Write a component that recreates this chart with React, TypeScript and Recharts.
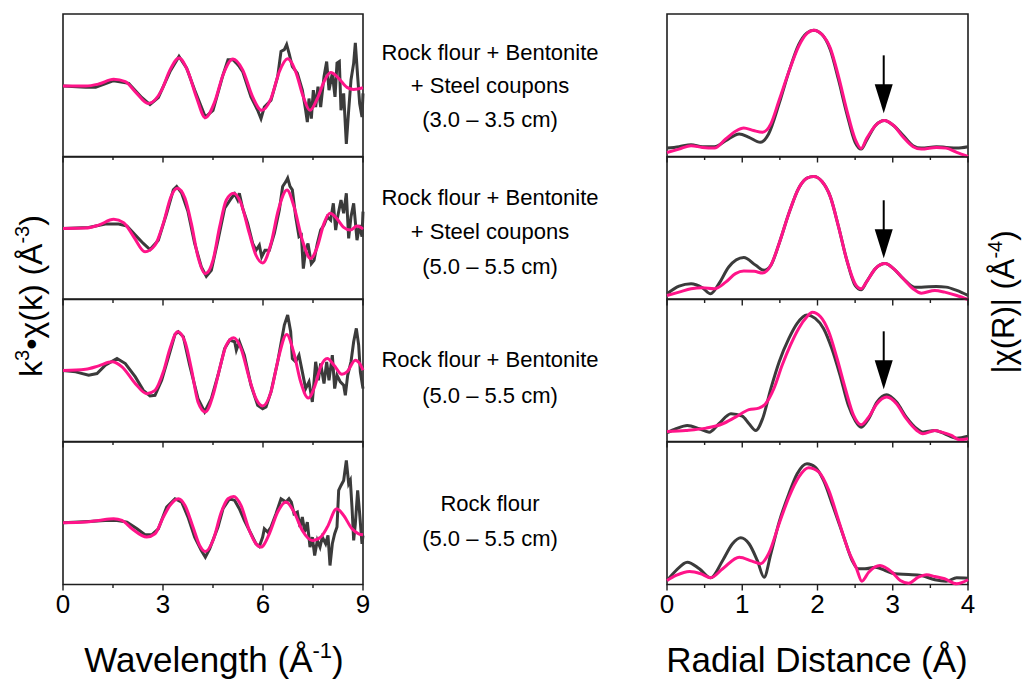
import React from "react";
import { LineChart, Line, XAxis, YAxis, ReferenceArea, ReferenceDot } from "recharts";

const FONT = "'Liberation Sans', Arial, Helvetica, sans-serif";
const EXP_COLOR = "#3b3b3b";
const FIT_COLOR = "#ff1489";
const FRAME = "#1e1e1e";

// ---- k-space, panel 1 (3.0-3.5 cm, + steel)
const kExp1 = [0, 0.68, 0.98, 1.52, 1.97, 2.36, 2.61, 2.86, 3.21, 3.48, 3.71, 3.95, 4.27, 4.5, 4.8, 4.95, 5.1, 5.2, 5.29, 5.39, 5.64, 5.84, 5.94, 6.04, 6.24, 6.44, 6.54, 6.64, 6.71, 6.78, 6.88, 7.03, 7.18, 7.28, 7.33, 7.38, 7.45, 7.51, 7.58, 7.65, 7.73, 7.83, 7.91, 7.98, 8.08, 8.16, 8.22, 8.29, 8.34, 8.42, 8.5, 8.57, 8.64, 8.72, 8.77, 8.84, 8.9, 8.97, 9.0];
const chiExp1 = [0, -0.13, -0.13, 0.53, 0.27, -1.13, -1.83, -1.13, 1.43, 2.93, 1.77, -0.4, -3.07, -2.4, 1.1, 2.6, 2.6, 2.27, 1.93, 1.43, -1.07, -2.4, -3.23, -2.07, -1.4, 0.93, 3.43, 3.6, 4.1, 3.27, 1.93, 1.27, -0.4, -2.4, -3.57, -1.23, -3.23, -0.4, -2.07, -0.07, -2.07, 0.93, 2.43, -0.4, 1.27, -1.07, 2.27, 2.43, -2.4, -0.73, -5.73, -2.4, 0.6, 2.27, 4.27, 0.93, -1.73, -3.07, -0.73];
const kFit1 = [0, 0.68, 1.07, 1.52, 1.87, 2.17, 2.56, 2.96, 3.21, 3.48, 3.75, 4.0, 4.27, 4.55, 4.8, 5.1, 5.39, 5.69, 5.96, 6.24, 6.49, 6.74, 6.98, 7.21, 7.41, 7.63, 7.83, 8.03, 8.27, 8.52, 8.72, 9.0];
const chiFit1 = [0, 0, 0.2, 0.67, 0.43, -0.57, -1.73, -0.4, 1.6, 2.77, 1.43, -1.07, -3.13, -1.57, 1.1, 2.67, 1.6, -1.07, -2.4, -1.23, 1.43, 2.7, 1.43, -1.07, -2.4, -1.23, 0.43, 1.33, 0.77, -0.13, -0.33, -0.17];

// ---- k-space, panel 2 (5.0-5.5 cm, + steel)
const kExp2 = [0, 0.77, 1.27, 1.67, 1.92, 2.17, 2.41, 2.61, 2.86, 3.11, 3.31, 3.41, 3.56, 3.75, 3.95, 4.15, 4.3, 4.45, 4.65, 4.85, 5.05, 5.15, 5.24, 5.29, 5.39, 5.54, 5.69, 5.79, 5.89, 5.96, 6.06, 6.19, 6.34, 6.49, 6.59, 6.69, 6.74, 6.81, 6.88, 6.98, 7.08, 7.15, 7.21, 7.28, 7.35, 7.45, 7.53, 7.63, 7.73, 7.83, 7.93, 8.03, 8.11, 8.18, 8.24, 8.34, 8.42, 8.5, 8.57, 8.64, 8.72, 8.82, 8.9, 8.97, 9.0];
const chiExp2 = [0, 0.1, 0.43, 0.43, 0.23, -0.67, -1.5, -2.1, -1.17, 1.5, 3.83, 4.17, 3.5, 1.67, -1.5, -3.83, -4.77, -4.17, -1.17, 2.0, 3.0, 3.43, 2.83, 3.5, 2.0, 0.5, -1.5, -2.17, -1.67, -2.83, -2.17, -2.17, -0.5, 1.83, 4.17, 4.67, 5.0, 4.17, 3.83, 1.17, -0.83, -0.67, -4.0, -2.17, -1.5, -3.5, -3.17, -1.5, -0.17, 0.33, 1.17, 0.83, 2.5, -0.17, 1.17, 2.83, 1.5, 3.5, -1.0, 1.17, 2.5, -1.17, 0.33, -0.83, 1.67];
const kFit2 = [0, 0.68, 1.07, 1.52, 1.82, 2.12, 2.46, 2.76, 3.01, 3.24, 3.43, 3.66, 3.85, 4.05, 4.27, 4.5, 4.7, 4.9, 5.12, 5.34, 5.59, 5.79, 5.99, 6.24, 6.46, 6.72, 6.93, 7.18, 7.43, 7.63, 7.83, 8.01, 8.21, 8.42, 8.62, 8.82, 9.0];
const chiFit2 = [0, 0.03, 0.33, 0.9, 0.57, -0.83, -2.33, -1.67, 0.5, 3.17, 4.0, 3.0, 0.5, -2.83, -4.5, -3.17, 0.17, 2.83, 3.5, 2.5, -0.5, -2.67, -3.43, -1.5, 1.83, 3.83, 2.17, -1.17, -3.0, -1.83, 0.5, 1.5, 1.0, 0.1, -0.17, 0.23, -0.07];

// ---- k-space, panel 3 (rock flour + bentonite)
const kExp3 = [0, 0.38, 0.77, 1.02, 1.27, 1.62, 1.87, 2.17, 2.41, 2.61, 2.76, 2.96, 3.21, 3.36, 3.46, 3.61, 3.8, 4.05, 4.25, 4.45, 4.65, 4.85, 5.0, 5.15, 5.2, 5.29, 5.44, 5.64, 5.84, 5.99, 6.09, 6.24, 6.44, 6.64, 6.74, 6.83, 6.88, 6.98, 7.08, 7.18, 7.28, 7.38, 7.48, 7.58, 7.66, 7.73, 7.83, 7.91, 7.98, 8.08, 8.15, 8.22, 8.32, 8.42, 8.47, 8.54, 8.64, 8.72, 8.8, 8.87, 8.92, 9.0];
const chiExp3 = [0, -0.13, -0.47, -0.3, 0.53, 1.2, 0.7, -0.63, -1.97, -2.53, -2.47, -0.97, 1.87, 3.6, 3.87, 3.37, 0.53, -2.8, -4.13, -2.8, -0.47, 2.2, 3.03, 2.87, 2.03, 2.87, 1.53, -1.47, -3.47, -3.8, -3.63, -2.13, 0.87, 4.53, 5.53, 3.87, 1.2, 0.87, 1.53, -0.13, -1.8, -1.13, -3.13, 0.87, -0.97, 0.7, -1.3, 0.87, -0.97, 1.53, -1.8, -0.47, -1.13, -1.47, -2.47, -0.47, 0.87, 2.87, 4.2, 2.53, -0.13, -1.8];
const kFit3 = [0, 0.68, 1.07, 1.47, 1.77, 2.17, 2.51, 2.76, 3.01, 3.21, 3.44, 3.66, 3.85, 4.05, 4.27, 4.5, 4.7, 4.9, 5.12, 5.34, 5.59, 5.79, 5.99, 6.24, 6.46, 6.71, 6.93, 7.13, 7.36, 7.58, 7.73, 7.93, 8.13, 8.37, 8.52, 8.77, 8.9, 9.0];
const chiFit3 = [0, 0.13, 0.47, 0.87, 0.37, -1.3, -2.3, -1.97, -0.13, 2.2, 3.87, 2.87, 0.2, -3.13, -4.13, -2.47, 0.2, 2.53, 3.27, 2.2, -0.8, -2.8, -3.53, -2.13, 1.2, 3.6, 1.7, -1.13, -2.73, -1.3, 0.37, 1.2, 0.53, -0.37, -0.13, 1.03, 0.7, 0.03];

// ---- k-space, panel 4 (rock flour)
const kExp4 = [0, 0.77, 1.27, 1.62, 1.92, 2.22, 2.46, 2.66, 2.86, 3.11, 3.36, 3.56, 3.75, 3.95, 4.15, 4.27, 4.4, 4.65, 4.8, 5.0, 5.15, 5.29, 5.44, 5.64, 5.79, 5.89, 5.99, 6.04, 6.14, 6.24, 6.39, 6.54, 6.69, 6.78, 6.85, 6.93, 7.03, 7.11, 7.18, 7.25, 7.33, 7.41, 7.48, 7.55, 7.63, 7.71, 7.78, 7.88, 7.95, 8.01, 8.08, 8.15, 8.22, 8.27, 8.34, 8.42, 8.5, 8.57, 8.62, 8.67, 8.72, 8.77, 8.84, 8.9, 8.97, 9.0];
const chiExp4 = [0, 0.13, 0.23, 0.23, 0.07, -0.6, -1.2, -1.2, -0.6, 1.57, 2.4, 2.07, 0.57, -1.43, -2.77, -3.43, -2.6, -0.43, 1.4, 2.4, 2.23, 1.4, 0.23, -1.1, -2.1, -2.37, -1.43, -0.6, -0.93, -0.43, 0.9, 2.4, 2.07, 2.4, 2.07, 0.9, 1.07, -0.43, 0.57, -0.93, 0.07, -2.43, -1.43, -3.27, -1.77, -2.43, -1.43, -2.1, -1.27, -4.27, -2.1, -1.1, -0.43, 3.23, 3.73, 4.23, 6.23, 3.9, 4.23, 1.57, -1.77, -0.1, 3.23, 0.9, -2.1, -1.27];
const kFit4 = [0, 0.68, 1.07, 1.52, 1.77, 2.07, 2.51, 2.76, 3.01, 3.21, 3.46, 3.66, 3.9, 4.1, 4.27, 4.5, 4.75, 4.95, 5.12, 5.34, 5.59, 5.79, 5.94, 6.19, 6.44, 6.69, 6.93, 7.18, 7.48, 7.73, 7.93, 8.21, 8.42, 8.67, 8.87, 9.0];
const chiFit4 = [0, 0.07, 0.23, 0.4, 0.23, -0.6, -1.43, -1.1, 0.57, 1.73, 2.4, 1.73, -0.43, -2.27, -2.87, -1.77, 1.07, 2.4, 2.63, 1.73, -0.77, -2.1, -2.43, -1.1, 1.07, 2.07, 1.07, -0.77, -1.77, -1.43, -0.43, 1.4, 0.73, -0.6, -1.1, -1.2];

// ---- R-space magnitudes
const rExp1 = [0, 0.16, 0.32, 0.47, 0.63, 0.78, 0.96, 1.09, 1.24, 1.35, 1.49, 1.62, 1.75, 1.86, 1.95, 2.06, 2.17, 2.28, 2.39, 2.5, 2.58, 2.65, 2.77, 2.89, 3.01, 3.14, 3.27, 3.38, 3.58, 3.71, 3.85, 4.0];
const ftExp1 = [0.83, 0.97, 1.17, 0.97, 0.97, 1.57, 2.23, 1.9, 1.4, 2.23, 5.23, 8.4, 11.07, 12.23, 12.5, 12.07, 10.57, 7.57, 4.23, 1.4, 0.73, 1.57, 3.07, 3.57, 3.07, 2.07, 1.07, 0.83, 0.97, 0.9, 0.83, 0.97];
const rFit1 = [0, 0.16, 0.32, 0.47, 0.63, 0.78, 0.91, 1.02, 1.15, 1.27, 1.38, 1.49, 1.62, 1.75, 1.86, 1.95, 2.06, 2.17, 2.28, 2.39, 2.5, 2.58, 2.65, 2.77, 2.89, 3.01, 3.14, 3.27, 3.38, 3.58, 3.71, 3.85, 4.0];
const ftFit1 = [0.4, 0.73, 1.07, 0.9, 0.83, 1.73, 2.5, 2.83, 2.57, 2.4, 3.23, 5.57, 8.4, 10.9, 12.17, 12.5, 12.07, 10.73, 7.9, 4.57, 1.73, 0.8, 1.73, 3.07, 3.57, 3.07, 1.9, 0.97, 0.73, 0.9, 0.83, 0.4, 0];

const rExp2 = [0, 0.16, 0.32, 0.47, 0.58, 0.69, 0.82, 1.02, 1.18, 1.29, 1.38, 1.49, 1.62, 1.75, 1.86, 1.95, 2.06, 2.17, 2.28, 2.39, 2.5, 2.58, 2.65, 2.77, 2.9, 3.01, 3.14, 3.29, 3.38, 3.58, 3.71, 3.85, 4.0];
const ftExp2 = [0.57, 1.33, 1.57, 1.17, 0.57, 1.57, 3.23, 4.17, 3.4, 2.9, 3.4, 5.57, 8.57, 11.07, 12.07, 12.23, 11.73, 10.23, 7.23, 3.9, 1.4, 0.97, 1.73, 3.07, 3.57, 3.07, 2.07, 1.23, 1.23, 1.3, 1.23, 0.9, 0.4];
const rFit2 = [0, 0.16, 0.32, 0.47, 0.63, 0.78, 0.91, 1.02, 1.16, 1.27, 1.38, 1.49, 1.62, 1.75, 1.86, 1.95, 2.06, 2.17, 2.28, 2.39, 2.5, 2.58, 2.65, 2.77, 2.9, 3.01, 3.14, 3.27, 3.38, 3.56, 3.69, 3.85, 4.0];
const ftFit2 = [0.4, 0.73, 1.07, 1.17, 1.07, 1.73, 2.57, 2.83, 2.8, 2.63, 3.4, 5.57, 8.57, 11.07, 12.07, 12.23, 11.73, 10.23, 7.23, 3.9, 1.57, 1.07, 1.73, 3.07, 3.57, 3.07, 2.07, 1.07, 0.63, 0.9, 0.73, 0.4, 0];

const rExp3 = [0, 0.12, 0.27, 0.43, 0.56, 0.69, 0.85, 1.0, 1.09, 1.18, 1.27, 1.38, 1.49, 1.62, 1.73, 1.86, 1.97, 2.08, 2.19, 2.3, 2.41, 2.5, 2.58, 2.68, 2.79, 2.92, 3.05, 3.18, 3.32, 3.4, 3.56, 3.69, 3.85, 4.0];
const ftExp3 = [0.87, 1.27, 1.6, 1.27, 0.93, 1.77, 2.77, 2.53, 1.77, 1.1, 2.27, 5.27, 7.93, 10.27, 11.77, 12.6, 12.27, 11.27, 9.27, 6.6, 3.6, 2.1, 1.43, 2.27, 3.93, 4.67, 3.93, 2.43, 1.27, 0.93, 1.1, 0.77, 0.33, 0.53];
const rFit3 = [0, 0.25, 0.52, 0.74, 0.91, 1.09, 1.22, 1.31, 1.42, 1.53, 1.64, 1.75, 1.86, 1.93, 2.04, 2.15, 2.26, 2.37, 2.48, 2.58, 2.68, 2.79, 2.92, 3.05, 3.18, 3.32, 3.4, 3.56, 3.65, 3.78, 3.89, 4.0];
const ftFit3 = [1.0, 1.1, 1.33, 1.77, 2.43, 3.17, 3.33, 3.77, 5.27, 7.6, 9.6, 11.27, 12.43, 12.87, 12.43, 10.93, 8.27, 5.27, 2.6, 1.67, 2.43, 3.77, 4.43, 3.77, 2.27, 1.1, 0.77, 1.1, 0.93, 0.6, 0.17, 0.27];

const rExp4 = [0, 0.12, 0.27, 0.43, 0.58, 0.74, 0.87, 0.98, 1.09, 1.2, 1.29, 1.38, 1.49, 1.62, 1.73, 1.86, 1.97, 2.08, 2.21, 2.35, 2.46, 2.54, 2.63, 2.77, 2.9, 3.03, 3.21, 3.38, 3.56, 3.71, 3.85, 4.0];
const ftExp4 = [0.4, 1.4, 2.23, 1.57, 0.67, 2.4, 4.07, 4.67, 4.07, 2.4, 0.73, 3.07, 6.23, 9.07, 11.07, 12.07, 11.73, 10.4, 7.73, 4.73, 2.4, 1.57, 1.57, 1.73, 1.4, 1.07, 1.0, 0.9, 0.47, 0.33, 0.67, 0.63];
const rFit4 = [0, 0.12, 0.3, 0.45, 0.58, 0.74, 0.96, 1.13, 1.24, 1.35, 1.49, 1.62, 1.75, 1.88, 2.02, 2.15, 2.28, 2.41, 2.52, 2.59, 2.68, 2.83, 2.99, 3.1, 3.21, 3.34, 3.45, 3.56, 3.69, 3.85, 4.0];
const ftFit4 = [0.4, 0.9, 1.3, 1.07, 0.67, 1.57, 2.73, 2.33, 2.07, 3.07, 6.07, 8.73, 10.73, 11.67, 11.23, 9.4, 6.4, 3.4, 1.57, 0.33, 1.23, 1.9, 1.23, 0.4, 0.13, 0.73, 0.97, 0.8, 0.57, 0.07, 0.47];

// y ranges of each stacked panel
const kRanges = [[-6.97, 7.13], [-7.07, 7.1], [-7.07, 7.13], [-6.17, 8.07]];
const rRanges = [[0, 14.1], [0, 14.17], [0, 14.2], [0, 14.23]];

// arrows marking the second shell peak (R, |chi(R)|)
const arrowR = 2.88;
const arrowTips = [4.27, 4.1, 5.2];

const kTicks = [0, 1.5, 3, 4.5, 6, 7.5, 9];
const kMajor = [0, 3, 6, 9];
const rTicks = [0, 0.5, 1, 1.5, 2, 2.5, 3, 3.5, 4];
const rMajor = [0, 1, 2, 3, 4];

const sampleLabels = [
  ["Rock flour + Bentonite", "+ Steel coupons", "(3.0 – 3.5 cm)"],
  ["Rock flour + Bentonite", "+ Steel coupons", "(5.0 – 5.5 cm)"],
  ["Rock flour + Bentonite", "(5.0 – 5.5 cm)"],
  ["Rock flour", "(5.0 – 5.5 cm)"],
];
const labelY = [[52, 85, 119], [197, 231, 266], [359, 395], [503, 538]];

const zip = (xs: number[], ys: number[]) => xs.map((x, i) => ({ x, y: ys[i] }));

const kPanels = [
  { exp: zip(kExp1, chiExp1), fit: zip(kFit1, chiFit1) },
  { exp: zip(kExp2, chiExp2), fit: zip(kFit2, chiFit2) },
  { exp: zip(kExp3, chiExp3), fit: zip(kFit3, chiFit3) },
  { exp: zip(kExp4, chiExp4), fit: zip(kFit4, chiFit4) },
];
const rPanels = [
  { exp: zip(rExp1, ftExp1), fit: zip(rFit1, ftFit1) },
  { exp: zip(rExp2, ftExp2), fit: zip(rFit2, ftFit2) },
  { exp: zip(rExp3, ftExp3), fit: zip(rFit3, ftFit3) },
  { exp: zip(rExp4, ftExp4), fit: zip(rFit4, ftFit4) },
];

const PANEL_TOP = 14;
const PANEL_H = 142.5;

function renderTick(props: any, major: number[], showLabel: boolean) {
  const { x, y, payload } = props;
  const isMajor = major.includes(payload.value);
  return (
    <g>
      <line x1={x} x2={x} y1={y} y2={y + (isMajor ? 6 : 3.5)} stroke={FRAME} strokeWidth={1.4} />
      {showLabel && isMajor && (
        <text x={x} y={y + 28} textAnchor="middle" fontSize={26} fontFamily={FONT} fill="#000">
          {payload.value}
        </text>
      )}
    </g>
  );
}

const ArrowShape = (props: any) => {
  const { cx, cy } = props;
  return (
    <g>
      <line x1={cx} x2={cx} y1={cy - 58} y2={cy - 27} stroke="#000" strokeWidth={2} />
      <polygon points={`${cx - 9},${cy - 29} ${cx + 9},${cy - 29} ${cx},${cy}`} fill="#000" />
    </g>
  );
};

function Panel(p: any) {
  const padX = 12;
  const padTop = 6;
  const axisH = p.bottom ? 40 : 10;
  return (
    <div style={{ position: "absolute", left: p.left - padX, top: p.top - padTop }}>
      <LineChart
        width={p.width + 2 * padX}
        height={padTop + PANEL_H + axisH}
        margin={{ top: padTop, right: padX, bottom: 0, left: padX }}
      >
        <XAxis
          dataKey="x"
          type="number"
          domain={p.domainX}
          ticks={p.ticks}
          interval={0}
          height={axisH}
          axisLine={false}
          tickLine={false}
          tickSize={0}
          tickMargin={0}
          tick={(t: any) => renderTick(t, p.major, p.bottom)}
        />
        <YAxis type="number" domain={p.domainY} hide />
        <ReferenceArea
          x1={p.domainX[0]}
          x2={p.domainX[1]}
          y1={p.domainY[0]}
          y2={p.domainY[1]}
          fill="none"
          fillOpacity={0}
          stroke={FRAME}
          strokeWidth={1.6}
        />
        <Line data={p.exp} dataKey="y" type={p.expType} stroke={EXP_COLOR} strokeWidth={3} dot={false} isAnimationActive={false} />
        <Line data={p.fit} dataKey="y" type="monotone" stroke={FIT_COLOR} strokeWidth={3} dot={false} isAnimationActive={false} />
        {p.arrow !== undefined && (
          <ReferenceDot x={arrowR} y={p.arrow} r={1} shape={ArrowShape} />
        )}
      </LineChart>
    </div>
  );
}

export default function App() {
  return (
    <div style={{ position: "absolute", left: 0, top: 0, width: 1023, height: 679, background: "#fff", overflow: "hidden" }}>
      {kPanels.map((d, i) => (
        <Panel
          key={"k" + i}
          left={63}
          top={PANEL_TOP + i * PANEL_H}
          width={300}
          domainX={[0, 9]}
          ticks={kTicks}
          major={kMajor}
          domainY={kRanges[i]}
          exp={d.exp}
          fit={d.fit}
          expType="linear"
          bottom={i === 3}
        />
      ))}
      {rPanels.map((d, i) => (
        <Panel
          key={"r" + i}
          left={667}
          top={PANEL_TOP + i * PANEL_H}
          width={301}
          domainX={[0, 4]}
          ticks={rTicks}
          major={rMajor}
          domainY={rRanges[i]}
          exp={d.exp}
          fit={d.fit}
          expType="monotone"
          bottom={i === 3}
          arrow={arrowTips[i]}
        />
      ))}
      <svg width={1023} height={679} style={{ position: "absolute", left: 0, top: 0, pointerEvents: "none" }} fontFamily={FONT}>
        {sampleLabels.map((lines, i) =>
          lines.map((line, j) => (
            <text key={i + "-" + j} x={490} y={labelY[i][j] + 8} textAnchor="middle" fontSize={22} fill="#000">
              {line}
            </text>
          ))
        )}
        <text x={214} y={672} textAnchor="middle" fontSize={35} fill="#000">
          Wavelength (Å<tspan dy={-14} fontSize={22}>-1</tspan>
          <tspan dy={14}>)</tspan>
        </text>
        <text x={817} y={672} textAnchor="middle" fontSize={35} fill="#000">
          Radial Distance (Å)
        </text>
        <text transform="translate(42,296) rotate(-90)" textAnchor="middle" fontSize={32} fill="#000">
          k<tspan dy={-13} fontSize={20}>3</tspan>
          <tspan dy={13}>•χ(k) (Å</tspan>
          <tspan dy={-13} fontSize={20}>-3</tspan>
          <tspan dy={13}>)</tspan>
        </text>
        <text transform="translate(1014,302) rotate(-90)" textAnchor="middle" fontSize={31} fill="#000">
          |χ(R)| (Å<tspan dy={-12} fontSize={20}>-4</tspan>
          <tspan dy={12}>)</tspan>
        </text>
      </svg>
    </div>
  );
}
